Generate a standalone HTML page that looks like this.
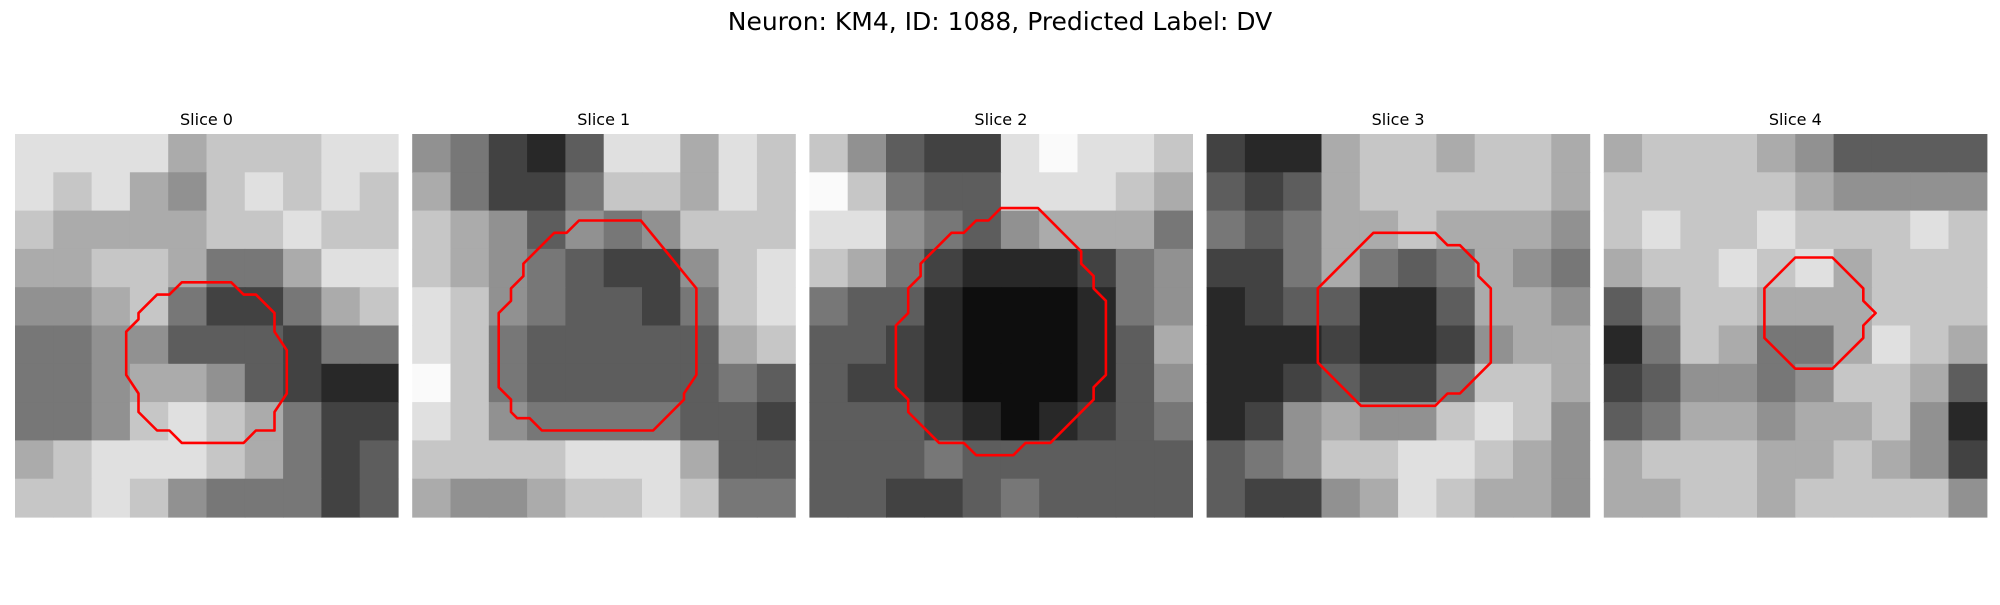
<!DOCTYPE html>
<html><head><meta charset="utf-8"><style>
body{margin:0;background:#fff;width:2000px;height:600px;overflow:hidden;font-family:"Liberation Sans","DejaVu Sans",sans-serif}
</style></head><body>
<svg id="fig" width="2000" height="600" xmlns="http://www.w3.org/2000/svg">
<rect width="2000" height="600" fill="#fff"/>
<text x="1000" y="30" font-size="25" text-anchor="middle" font-family="DejaVu Sans, sans-serif">Neuron: KM4, ID: 1088, Predicted Label: DV</text>
</svg>
<script>
const sliceTitles=["Slice 0","Slice 1","Slice 2","Slice 3","Slice 4"];
const gridN=31;
const slice0=[[8,8,8,8,6,7,7,7,8,8],[8,7,8,6,5,7,8,7,8,7],[7,6,6,6,6,7,7,8,7,7],[6,6,7,7,6,4,4,6,8,8],[5,5,6,7,4,2,2,4,6,7],[4,4,5,5,3,3,3,2,4,4],[4,4,5,6,6,5,3,2,1,1],[4,4,5,7,8,7,6,4,2,2],[6,7,8,8,8,7,6,4,2,3],[7,7,8,7,5,4,4,4,2,3]];
const slice1=[[5,4,2,1,3,8,8,6,8,7],[6,4,2,2,4,7,7,6,8,7],[7,6,5,3,5,4,5,7,7,7],[7,6,5,4,3,2,2,5,7,8],[8,7,5,4,3,3,2,4,7,8],[8,7,4,3,3,3,3,3,6,7],[9,7,4,3,3,3,3,3,4,3],[8,7,5,4,4,4,4,3,3,2],[7,7,7,7,8,8,8,6,3,3],[6,5,5,6,7,7,8,7,4,4]];
const slice2=[[7,5,3,2,2,8,9,8,8,7],[9,7,4,3,3,8,8,8,7,6],[8,8,5,4,3,5,6,6,6,4],[7,6,4,2,1,1,1,2,4,5],[4,3,3,1,0,0,0,1,4,5],[3,3,2,1,0,0,0,1,3,6],[3,2,2,1,0,0,0,1,3,5],[3,3,3,2,1,0,1,2,3,4],[3,3,3,4,3,3,3,3,3,3],[3,3,2,2,3,4,3,3,3,3]];
const slice3=[[2,1,1,6,7,7,6,7,7,6],[3,2,3,6,7,7,7,7,7,6],[4,3,4,6,6,7,6,6,6,5],[2,2,4,6,4,3,4,6,5,4],[1,2,3,3,1,1,3,6,6,5],[1,1,1,2,1,1,2,5,6,6],[1,1,2,3,2,2,4,7,7,6],[1,2,5,6,5,5,7,8,7,5],[3,4,5,7,7,8,8,7,6,5],[3,2,2,5,6,8,7,6,6,5]];
const slice4=[[6,7,7,7,6,5,3,3,3,3],[7,7,7,7,7,6,5,5,5,5],[7,8,7,7,8,7,7,7,8,7],[6,7,7,8,7,8,6,7,7,7],[3,5,7,7,6,6,6,7,7,7],[1,4,7,6,4,4,6,8,7,6],[2,3,5,5,4,5,7,7,6,3],[3,4,6,6,5,6,6,7,5,1],[6,7,7,7,6,6,7,6,5,2],[6,6,7,7,6,7,7,7,7,5]];
const contour0=[[13.5,12],[17.5,12],[18.5,13],[19.5,13],[21,14.5],[21,16],[22,17.5],[22,21],[21,22.5],[21,24],[19.5,24],[18.5,25],[13.5,25],[12.5,24],[11.5,24],[10,22.5],[10,21],[9,19.5],[9,16],[10,15],[10,14.5],[11.5,13],[12.5,13]];
const contour1=[[13.5,7],[18.5,7],[23,12.5],[23,19.5],[22,21],[22,21.5],[19.5,24],[10.5,24],[9.5,23],[8.5,23],[8,22.5],[8,21.5],[7,20.5],[7,14.5],[8,13.5],[8,12.5],[9,11.5],[9,10.5],[11.5,8],[12.5,8]];
const contour2=[[15.5,6],[18.5,6],[22,9.5],[22,10.5],[23,11.5],[23,12.5],[24,13.5],[24,19.5],[23,20.5],[23,21.5],[19.5,25],[17.5,25],[16.5,26],[13.5,26],[12.5,25],[10.5,25],[8,22.5],[8,21.5],[7,20.5],[7,15.5],[8,14.5],[8,12.5],[9,11.5],[9,10.5],[11.5,8],[12.5,8],[13.5,7],[14.5,7]];
const contour3=[[13.5,8],[18.5,8],[19.5,9],[20.5,9],[22,10.5],[22,11.5],[23,12.5],[23,18.5],[20.5,21],[19.5,21],[18.5,22],[12.5,22],[9,18.5],[9,12.5]];
const contour4=[[15.5,10],[18.5,10],[21,12.5],[21,13.5],[22,14.5],[21,15.5],[21,16.5],[18.5,19],[15.5,19],[13,16.5],[13,12.5]];
const slices=[slice0,slice1,slice2,slice3,slice4];
const contours=[contour0,contour1,contour2,contour3,contour4];

const NS="http://www.w3.org/2000/svg";
const svg=document.getElementById('fig');
const panelLeft=15, panelStep=397.2, panelTop=134, panelSize=383;
function gray(v){const g=Math.round(14+v/9*236);return `rgb(${g},${g},${g})`;}
slices.forEach((data,i)=>{
  const x0=panelLeft+i*panelStep;
  const g=document.createElementNS(NS,'g');
  
  
  svg.appendChild(g);
  const t=document.createElementNS(NS,'text');
  
  
  t.setAttribute('x',x0+panelSize/2);t.setAttribute('y',125);
  t.setAttribute('font-size','16');t.setAttribute('text-anchor','middle');
  t.setAttribute('font-family','DejaVu Sans, sans-serif');
  t.textContent=sliceTitles[i];g.appendChild(t);
  const rows=data.length, cols=data[0].length;
  const cw=panelSize/cols, ch=panelSize/rows;
  data.forEach((row,r)=>row.forEach((v,c)=>{
    const rc=document.createElementNS(NS,'rect');
    
    
    rc.setAttribute('x',(x0+c*cw).toFixed(2));rc.setAttribute('y',(panelTop+r*ch).toFixed(2));
    rc.setAttribute('width',(cw+0.6).toFixed(2));rc.setAttribute('height',(ch+0.6).toFixed(2));
    rc.setAttribute('fill',gray(v));g.appendChild(rc);
  }));
  const u=panelSize/gridN;
  const pts=contours[i].map(p=>(x0+p[0]*u).toFixed(1)+','+(panelTop+p[1]*u).toFixed(1)).join(' ');
  const pg=document.createElementNS(NS,'polygon');
  
  
  pg.setAttribute('points',pts);pg.setAttribute('fill','none');
  pg.setAttribute('stroke','#ff0000');pg.setAttribute('stroke-width','2.6');
  pg.setAttribute('stroke-linejoin','round');
  g.appendChild(pg);
});
</script>
</body></html>
